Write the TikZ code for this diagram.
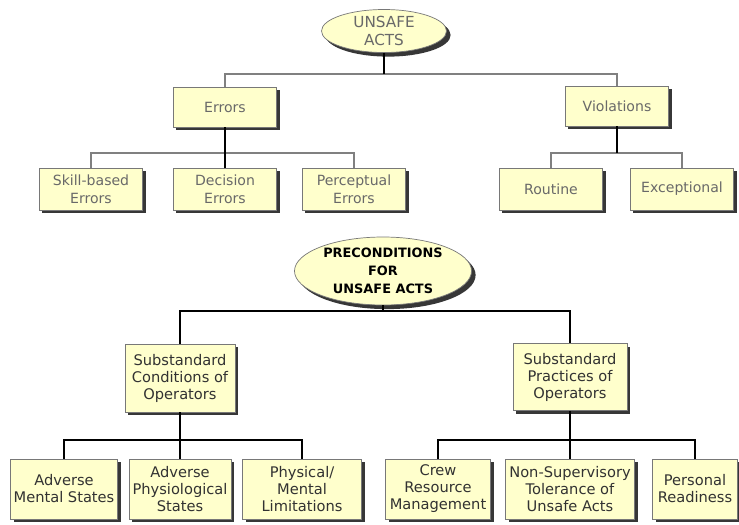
\documentclass[tikz,border=0pt]{standalone}
\usepackage{fontspec}
\setmainfont{DejaVu Sans}
\usetikzlibrary{shapes.geometric, shadows}
\definecolor{paleyellow}{RGB}{255,255,204}
\definecolor{boxedge}{RGB}{120,120,120}
\definecolor{toptext}{RGB}{105,105,105}
\definecolor{lowtext}{RGB}{50,50,50}
\definecolor{shadowgray}{RGB}{55,55,55}
\definecolor{linegray}{RGB}{128,128,128}

\begin{document}
\begin{tikzpicture}[x=0.03cm, y=-0.03cm]
\tikzstyle{box}=[draw=boxedge, line width=0.6pt, fill=paleyellow, align=center, inner sep=1pt,
  drop shadow={shadow xshift=2.6pt, shadow yshift=-2.6pt, fill=shadowgray, opacity=1}]
\tikzstyle{upper}=[box, text=toptext, font=\fontsize{12}{15}\selectfont, minimum width=3.1cm]
\tikzstyle{lower}=[box, text=lowtext, font=\fontsize{12.5}{14.5}\selectfont, minimum height=1.8cm]
\tikzstyle{oval}=[ellipse, box, inner sep=0pt,
  drop shadow={shadow xshift=3.5pt, shadow yshift=-3.5pt, fill=shadowgray, opacity=1}]
\tikzstyle{greyline}=[draw=linegray, line width=2.5pt]
\tikzstyle{blackline}=[draw=black, line width=2.5pt]

\useasboundingbox[fill=white] (0,0) rectangle (739,524);

\node[oval, text=toptext, font=\fontsize{13}{15}\selectfont, minimum width=3.75cm, minimum height=1.29cm, inner ysep=-2pt] (ua) at (384,31) {UNSAFE\\ACTS};
\node[upper, minimum height=1.2cm] (err) at (225,107) {Errors};
\node[upper, minimum height=1.2cm] (vio) at (617,106) {Violations};
\node[upper, minimum height=1.26cm] (skill) at (91,189) {Skill-based\\Errors};
\node[upper, minimum height=1.26cm] (dec) at (225,189) {Decision\\Errors};
\node[upper, minimum height=1.26cm] (perc) at (354,189) {Perceptual\\Errors};
\node[upper, minimum height=1.26cm] (rout) at (551,189) {Routine};
\node[upper, minimum height=1.26cm] (exc) at (682,189) {Exceptional};

\node[oval, text=black, font=\bfseries\fontsize{11}{15.5}\selectfont, minimum width=5.31cm, minimum height=2.04cm, inner ysep=-2pt] (prec) at (383,271) {PRECONDITIONS\\FOR\\UNSAFE ACTS};
\node[lower, minimum width=3.3cm, minimum height=2.04cm] (cond) at (180,378) {Substandard\\Conditions of\\Operators};
\node[lower, minimum width=3.42cm, minimum height=2.01cm] (prac) at (570,377) {Substandard\\Practices of\\Operators};
\node[lower, minimum width=3.21cm] (mental) at (64,489) {Adverse\\Mental States};
\node[lower, minimum width=3.06cm] (physio) at (180,489) {Adverse\\Physiological\\States};
\node[lower, minimum width=3.57cm] (physical) at (302,489) {Physical/\\Mental\\Limitations};
\node[lower, minimum width=3.15cm] (crew) at (438,489) {Crew\\Resource\\Management};
\node[lower, minimum width=3.87cm] (nonsup) at (570,489) {Non-Supervisory\\Tolerance of\\Unsafe Acts};
\node[lower, minimum width=2.55cm] (personal) at (695,489) {Personal\\Readiness};

\coordinate (bar1) at (384,74);
\coordinate (bar2) at (225,153);
\coordinate (bar3) at (617,153);
\coordinate (bar4) at (383,311);
\coordinate (bar5) at (180,440);
\coordinate (bar6) at (570,440);

\path[greyline] (bar1) -| (err.north);
\path[greyline] (bar1) -| (vio.north);
\path[blackline] (ua.south) -- (bar1);
\path[greyline] (bar2) -| (skill.north);
\path[greyline] (bar2) -| (perc.north);
\path[blackline] (err.south) -- (dec.north);
\path[greyline] (bar3) -| (rout.north);
\path[greyline] (bar3) -| (exc.north);
\path[blackline] (vio.south) -- (bar3);

\path[blackline] (prec.south) -- (bar4);
\path[blackline] (bar4) -| (cond.north);
\path[blackline] (bar4) -| (prac.north);
\path[blackline] (cond.south) -- (physio.north);
\path[blackline] (bar5) -| (mental.north);
\path[blackline] (bar5) -| (physical.north);
\path[blackline] (prac.south) -- (nonsup.north);
\path[blackline] (bar6) -| (crew.north);
\path[blackline] (bar6) -| (personal.north);
\end{tikzpicture}
\end{document}
